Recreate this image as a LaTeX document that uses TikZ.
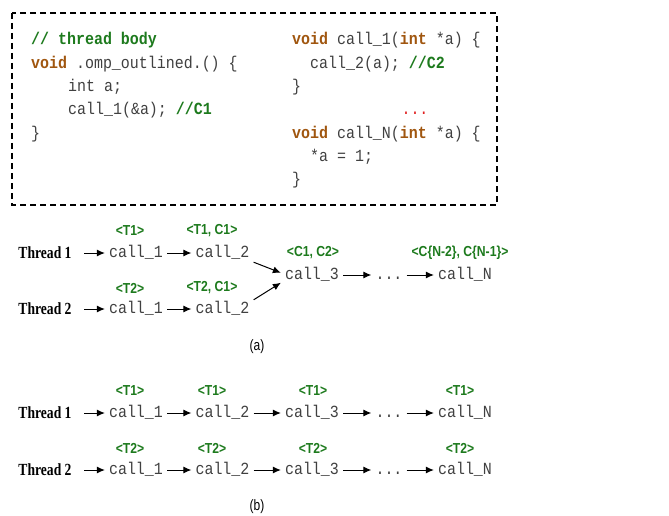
\documentclass[tikz,border=0pt]{standalone}
\usepackage{fontspec}
\setmainfont{Liberation Serif}
\setsansfont{Liberation Sans}
\newfontfamily\codefont[FakeStretch=0.88]{Liberation Mono}
\newfontfamily\threadfont[FakeStretch=0.8]{Liberation Serif}
\newfontfamily\tagfont[FakeStretch=0.84]{Liberation Sans}
\newfontfamily\capfont[FakeStretch=0.8]{Liberation Sans}
\usetikzlibrary{arrows.meta,positioning}

\definecolor{codegray}{HTML}{404040}
\definecolor{kwbrown}{HTML}{A0560F}
\definecolor{cmtgreen}{HTML}{1D7A1D}
\definecolor{dotred}{HTML}{E02020}

\newcommand{\kw}[1]{\textcolor{kwbrown}{\textbf{#1}}}
\newcommand{\cmt}[1]{\textcolor{cmtgreen}{\textbf{#1}}}

\begin{document}
\begin{tikzpicture}[x=1pt,y=-1pt,
	codeline/.style={anchor=west, inner sep=0pt, text height=12pt, text depth=4pt, text=codegray, font=\codefont\fontsize{17}{20}\selectfont},
	call/.style={inner xsep=4pt, inner ysep=1pt, text height=12pt, text depth=4pt, text=codegray, font=\codefont\fontsize{17}{20}\selectfont},
	tag/.style={inner sep=0pt, text=cmtgreen, font=\tagfont\bfseries\fontsize{14.5}{17}\selectfont},
	thread/.style={inner sep=0pt, font=\threadfont\bfseries\fontsize{17}{20}\selectfont},
	flow/.style={-{Latex[length=8pt,width=7pt]}, line width=1pt},
	caption/.style={font=\capfont\fontsize{15}{18}\selectfont}]
	\useasboundingbox (0,0) rectangle (669,516);

	% source code
	\draw[line width=1.6pt, dash pattern=on 6pt off 4pt] (12,13) rectangle (497,205);
	\node[codeline] (l1) at (31,41) {\cmt{// thread body}};
	\node[codeline] (l2) at (31,64.3) {\kw{void} .omp\_outlined.() \{};
	\node[codeline] (l3) at (68,87.6) {int a;};
	\node[codeline] (l4) at (68,110.9) {call\_1(\&a); \cmt{//C1}};
	\node[codeline] (l5) at (31,134.2) {\}};
	\node[codeline] (r1) at (292,41) {\kw{void} call\_1(\kw{int} *a) \{};
	\node[codeline] (r2) at (310,64.3) {call\_2(a); \cmt{//C2}};
	\node[codeline] (r3) at (292,87.6) {\}};
	\node[codeline, anchor=center, text=dotred] (r4) at (415,110.9) {...};
	\node[codeline] (r5) at (292,134.2) {\kw{void} call\_N(\kw{int} *a) \{};
	\node[codeline] (r6) at (310,157.5) {*a = 1;};
	\node[codeline] (r7) at (292,180.8) {\}};

	% (a)
	\node[thread] (t1a) at (45,253) {Thread 1};
	\node[thread] (t2a) at (45,309) {Thread 2};
	\node[call] (c11a) at (136,253) {call\_1};
	\node[call] (c12a) at (222.5,253) {call\_2};
	\node[call] (c21a) at (136,309) {call\_1};
	\node[call] (c22a) at (222.5,309) {call\_2};
	\node[call] (c3a) at (312,275) {call\_3};
	\node[call] (dotsa) at (389,275) {...};
	\node[call] (cNa) at (465,275) {call\_N};

	\node[tag] at (130,231) {<T1>};
	\node[tag] at (212,231) {<T1, C1>};
	\node[tag] at (130,288) {<T2>};
	\node[tag] at (212,288) {<T2, C1>};
	\node[tag] at (313,253) {<C1, C2>};
	\node[tag] at (460,253) {<C\{N-2\}, C\{N-1\}>};

	\draw[flow, shorten <=12.5pt] (t1a) -- (c11a);
	\draw[flow, shorten <=12.5pt] (t2a) -- (c21a);
	\draw[flow] (c11a) -- (c12a);
	\draw[flow] (c21a) -- (c22a);
	\draw[flow] (c12a.south east) -- (c3a.176);
	\draw[flow] (c22a.north east) -- (c3a.194);
	\draw[flow] (c3a) -- (dotsa);
	\draw[flow] (dotsa) -- (cNa);

	\node[caption] (capa) at (257,347) {(a)};

	% (b)
	\foreach \r/\y/\t in {1/413/T1, 2/470/T2}{
		\node[thread] (t\r b) at (45,\y) {Thread \r};
		\node[call] (c\r1b) at (136,\y) {call\_1};
		\node[call] (c\r2b) at (222.5,\y) {call\_2};
		\node[call] (c\r3b) at (312,\y) {call\_3};
		\node[call] (dots\r b) at (389,\y) {...};
		\node[call] (c\r Nb) at (465,\y) {call\_N};
		\foreach \x in {130,212,313,460}
			\node[tag] at (\x,\y-22) {<\t>};
		\draw[flow, shorten <=12.5pt] (t\r b) -- (c\r1b);
		\draw[flow] (c\r1b) -- (c\r2b);
		\draw[flow] (c\r2b) -- (c\r3b);
		\draw[flow] (c\r3b) -- (dots\r b);
		\draw[flow] (dots\r b) -- (c\r Nb);
	}

	\node[caption] (capb) at (257,507) {(b)};
\end{tikzpicture}
\end{document}
